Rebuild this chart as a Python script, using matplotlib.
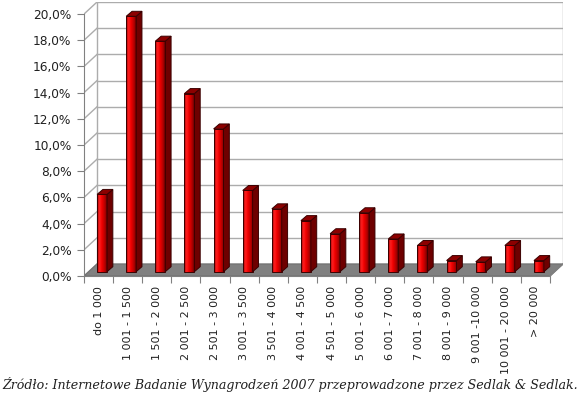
import numpy as np
import matplotlib.pyplot as plt
from matplotlib.patches import Polygon
from matplotlib.colors import LinearSegmentedColormap

# Rozkład wynagrodzeń 2007 (udział procentowy)
categories = ["do 1 000", "1 001 - 1 500", "1 501 - 2 000", "2 001 - 2 500",
              "2 501 - 3 000", "3 001 - 3 500", "3 501 - 4 000", "4 001 - 4 500",
              "4 501 - 5 000", "5 001 - 6 000", "6 001 - 7 000", "7 001 - 8 000",
              "8 001 - 9 000", "9 001 -10 000", "10 001 - 20 000", "> 20 000"]
shares = [5.9, 19.5, 17.6, 13.6, 10.9, 6.2, 4.8, 3.9,
          2.9, 4.5, 2.5, 2.0, 0.85, 0.75, 2.0, 0.85]
yticks = [0, 2, 4, 6, 8, 10, 12, 14, 16, 18, 20]
source = "Źródło: Internetowe Badanie Wynagrodzeń 2007 przeprowadzone przez Sedlak & Sedlak."

n = len(categories)
dx, dy = 0.447, 0.92      # depth of the "3d" box
bdx, bdy = 0.2, 0.38      # depth of a single bar
w, y0, off = 0.34, 0.33, 0.45

grid_c = "#acacac"
edge_c = "#808080"

fig = plt.figure(figsize=(5.8, 4.03), dpi=100)
ax = fig.add_axes([84 / 580, 1 - 276 / 403, 479 / 580, 274 / 403])
ax.set_xlim(0, n + dx)
ax.set_ylim(0, 20 + dy)

# back wall and side wall grid
for v in yticks:
    ax.plot([dx, n + dx], [v + dy, v + dy], color=grid_c, lw=1, zorder=1)
    ax.plot([0, dx], [v, v + dy], color=grid_c, lw=1, zorder=1)
ax.plot([dx, dx], [dy, 20 + dy], color=grid_c, lw=1, zorder=1)
ax.plot([n + dx, n + dx], [dy, 20 + dy], color=grid_c, lw=1, zorder=1)

# floor
floor = Polygon([(0, 0), (n, 0), (n + dx, dy), (dx, dy)], closed=True,
                facecolor="#808080", edgecolor="#707070", lw=0.8, zorder=2)
ax.add_patch(floor)

cmap = LinearSegmentedColormap.from_list(
    "redbar", ["#a00000", "#ff2020", "#f00000", "#c00000", "#800000"])
grad = np.linspace(0, 1, 64).reshape(1, -1)

for i, v in enumerate(shares):
    bl = i + off
    z = 3 + i * 0.01
    ax.imshow(grad, cmap=cmap, extent=[bl, bl + w, y0, y0 + v],
              aspect="auto", origin="lower", zorder=z, interpolation="bilinear")
    ax.add_patch(Polygon([(bl, y0), (bl + w, y0), (bl + w, y0 + v), (bl, y0 + v)],
                         closed=True, fill=False, edgecolor="#3a0000", lw=0.7, zorder=z))
    ax.add_patch(Polygon([(bl + w, y0), (bl + w + bdx, y0 + bdy),
                          (bl + w + bdx, y0 + v + bdy), (bl + w, y0 + v)],
                         closed=True, facecolor="#6e0000", edgecolor="#3a0000",
                         lw=0.7, zorder=z))
    ax.add_patch(Polygon([(bl, y0 + v), (bl + bdx, y0 + v + bdy),
                          (bl + w + bdx, y0 + v + bdy), (bl + w, y0 + v)],
                         closed=True, facecolor="#8c0000", edgecolor="#3a0000",
                         lw=0.7, zorder=z))

# axes
for s in ["top", "right"]:
    ax.spines[s].set_visible(False)
ax.spines["left"].set_bounds(0, 20)
ax.spines["bottom"].set_bounds(0, n)
ax.spines["left"].set_color(edge_c)
ax.spines["bottom"].set_color(edge_c)
ax.spines["left"].set_zorder(5)
ax.spines["bottom"].set_zorder(5)
ax.plot([n, n + dx], [0, dy], color=edge_c, lw=1, zorder=5)

ax.set_yticks(yticks)
ax.set_yticklabels([f"{t:.1f}%".replace(".", ",") for t in yticks])
ax.tick_params(axis="y", direction="out", length=5, color=edge_c, pad=4,
               labelsize=8.7, labelcolor="#202020")

ax.set_xticks(range(n + 1))
ax.set_xticklabels([])
ax.set_xticks(np.arange(n) + 0.5, minor=True)
ax.set_xticklabels(categories, minor=True, rotation=90, va="top", ha="center")
ax.tick_params(axis="x", which="major", direction="out", length=5, color=edge_c)
ax.tick_params(axis="x", which="minor", length=0, pad=7, labelsize=8,
               labelcolor="#202020")

fig.text(0.5, 1 - 385 / 403, source, ha="center", va="center",
         fontsize=9.1, style="italic", family="DejaVu Serif", color="#202020")

fig.savefig("out.png", dpi=100)
